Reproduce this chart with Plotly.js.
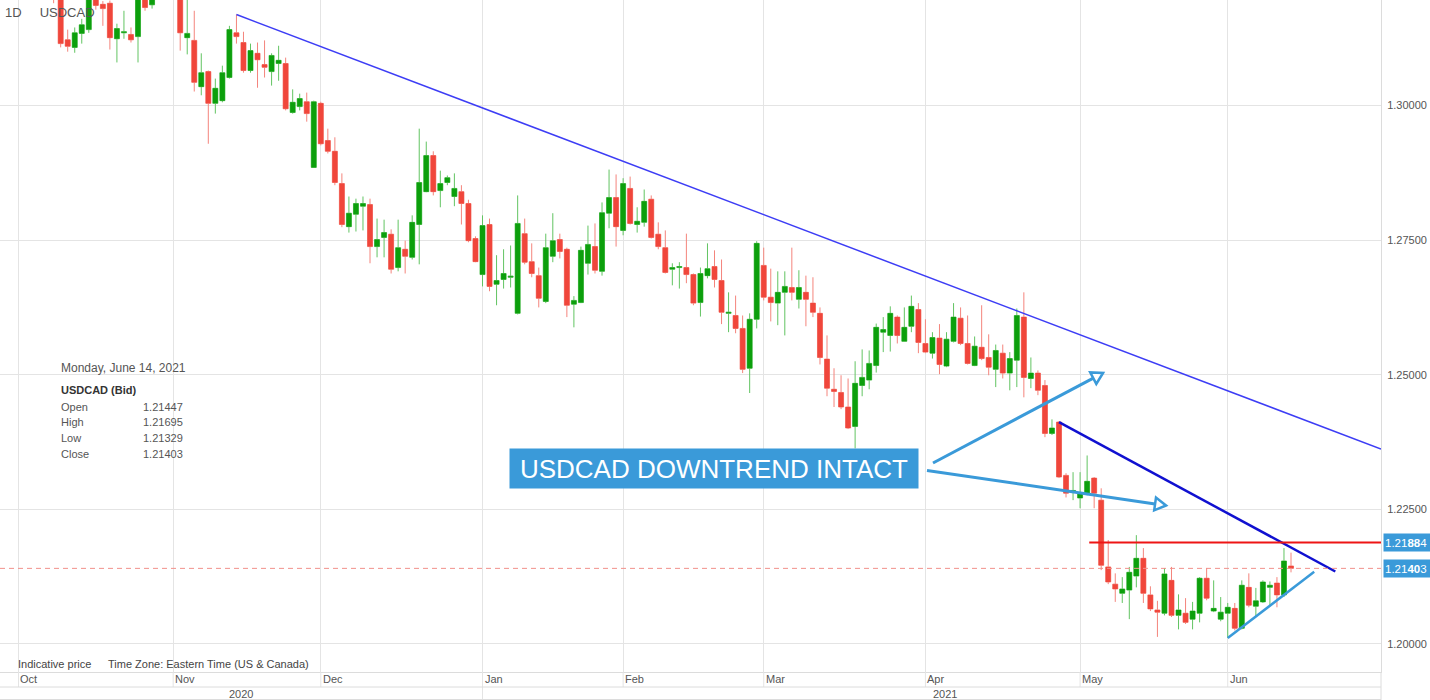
<!DOCTYPE html>
<html>
<head>
<meta charset="utf-8">
<script src="https://cdn.plot.ly/plotly-3.0.1.min.js"></script>
<style>
  html, body { margin: 0; padding: 0; background: #ffffff; }
  #chart { width: 1430px; height: 700px; }
</style>
</head>
<body>
<div id="chart"></div>
<script>
// ---------------- DATA ----------------
const symbol = 'USDCAD';
const timeframe = '1D';
const holidays = ['2021-01-01'];
const firstDay = '2020-10-01';
const lastDay = '2021-06-14';

const monthLabels = ['Oct', 'Nov', 'Dec', 'Jan', 'Feb', 'Mar', 'Apr', 'May', 'Jun'];
const yearLabels = ['2020', '2021'];
const priceTicks = [1.20, 1.225, 1.25, 1.275, 1.30];

const open = [
  // Oct 2020
  1.3315,1.3290,1.3310,1.3260,1.3330,1.3262,1.3200,1.3122,1.3108,1.3134,
  1.3141,1.3210,1.3188,1.3190,1.3124,1.3135,1.3132,1.3128,1.3210,1.3187,
  1.3245,1.3290,
  // Nov
  1.3315,1.3240,1.3126,1.3121,1.3035,1.3063,1.3004,1.3009,1.3052,1.3135,
  1.3117,1.3065,1.3097,1.3076,1.3063,1.3078,1.3078,1.2987,1.2998,1.3007,
  1.2885,
  // Dec
  1.3004,1.2935,1.2915,1.2855,1.2775,1.2798,1.2813,1.2816,1.2738,1.2755,
  1.2761,1.2699,1.2733,1.2718,1.2779,1.2840,1.2907,1.2842,1.2857,1.2831,
  1.2840,1.2818,1.2753,
  // Jan 2021
  1.2686,1.2779,1.2668,1.2677,1.2681,1.2614,1.2762,1.2710,1.2684,1.2636,
  1.2720,1.2751,1.2733,1.2631,1.2634,1.2707,1.2738,1.2692,1.2800,1.2829,
  // Feb
  1.2768,1.2846,1.2779,1.2783,1.2826,1.2761,1.2736,1.2696,1.2699,1.2699,
  1.2686,1.2634,1.2684,1.2701,1.2675,1.2614,1.2610,1.2586,1.2512,1.2603,
  // Mar
  1.2703,1.2644,1.2633,1.2653,1.2662,1.2640,1.2653,1.2633,1.2614,1.2529,
  1.2473,1.2467,1.2440,1.2404,1.2480,1.2490,1.2517,1.2579,1.2573,1.2607,
  1.2562,1.2590,1.2621,
  // Apr
  1.2558,1.2540,1.2568,1.2516,1.2562,1.2605,1.2558,1.2517,1.2551,1.2532,
  1.2510,1.2540,1.2503,1.2527,1.2607,1.2493,1.2503,1.2480,1.2391,1.2412,
  1.2313,1.2282,
  // May
  1.2271,1.2280,1.2308,1.2267,1.2143,1.2111,1.2094,1.2100,1.2126,1.2159,
  1.2091,1.2063,1.2057,1.2118,1.2053,1.2057,1.2046,1.2057,1.2122,1.2061,
  1.2046,
  // Jun
  1.2057,1.2066,1.2029,1.2105,1.2070,1.2078,1.2105,1.2113,1.2091,1.21447
];

const high = [
  1.3340,1.3330,1.3320,1.3340,1.3340,1.3270,1.3208,1.3141,1.3145,1.3161,
  1.3230,1.3220,1.3194,1.3195,1.3152,1.3176,1.3145,1.3225,1.3225,1.3260,
  1.3300,1.3380,
  1.3330,1.3250,1.3215,1.3176,1.3097,1.3065,1.3050,1.3074,1.3148,1.3169,
  1.3137,1.3115,1.3117,1.3121,1.3097,1.3111,1.3089,1.3030,1.3022,1.3024,
  1.3009,
  1.3007,1.2957,1.2941,1.2874,1.2831,1.2827,1.2831,1.2827,1.2790,1.2788,
  1.2770,1.2788,1.2749,1.2796,1.2957,1.2933,1.2915,1.2879,1.2870,1.2874,
  1.2852,1.2825,1.2757,
  1.2796,1.2790,1.2722,1.2733,1.2740,1.2833,1.2790,1.2744,1.2699,1.2762,
  1.2800,1.2762,1.2736,1.2646,1.2738,1.2777,1.2781,1.2820,1.2881,1.2872,
  1.2865,1.2868,1.2811,1.2844,1.2833,1.2783,1.2768,1.2707,1.2709,1.2762,
  1.2688,1.2699,1.2744,1.2731,1.2714,1.2653,1.2647,1.2610,1.2614,1.2748,
  1.2736,1.2697,1.2692,1.2692,1.2736,1.2694,1.2684,1.2681,1.2625,1.2573,
  1.2512,1.2499,1.2493,1.2525,1.2547,1.2545,1.2595,1.2607,1.2627,1.2610,
  1.2625,1.2647,1.2633,
  1.2603,1.2579,1.2594,1.2579,1.2633,1.2625,1.2610,1.2571,1.2629,1.2575,
  1.2556,1.2556,1.2542,1.2623,1.2653,1.2532,1.2508,1.2490,1.2417,1.2414,
  1.2317,1.2319,
  1.2319,1.2350,1.2310,1.2289,1.2193,1.2131,1.2124,1.2143,1.2202,1.2178,
  1.2107,1.2080,1.2141,1.2143,1.2092,1.2085,1.2078,1.2124,1.2141,1.2118,
  1.2087,
  1.2076,1.2076,1.2118,1.2131,1.2104,1.2118,1.2116,1.2124,1.2178,1.21695
];

const low = [
  1.3255,1.3265,1.3250,1.3240,1.3250,1.3190,1.3108,1.3100,1.3098,1.3115,
  1.3135,1.3178,1.3148,1.3104,1.3080,1.3124,1.3117,1.3080,1.3176,1.3180,
  1.3220,1.3260,
  1.3225,1.3102,1.3095,1.3026,1.3019,1.2929,1.2985,1.3006,1.3050,1.3115,
  1.3061,1.3061,1.3033,1.3052,1.3037,1.3046,1.2991,1.2985,1.2991,1.2970,
  1.2885,
  1.2926,1.2911,1.2852,1.2774,1.2764,1.2766,1.2768,1.2707,1.2718,1.2718,
  1.2688,1.2692,1.2688,1.2714,1.2705,1.2839,1.2833,1.2811,1.2852,1.2813,
  1.2779,1.2746,1.2709,
  1.2664,1.2655,1.2629,1.2660,1.2662,1.2612,1.2705,1.2681,1.2625,1.2633,
  1.2709,1.2716,1.2607,1.2588,1.2633,1.2686,1.2688,1.2684,1.2772,1.2738,
  1.2759,1.2779,1.2764,1.2775,1.2753,1.2733,1.2688,1.2666,1.2660,1.2670,
  1.2629,1.2608,1.2679,1.2662,1.2594,1.2579,1.2577,1.2503,1.2466,1.2586,
  1.2638,1.2599,1.2592,1.2573,1.2638,1.2623,1.2590,1.2607,1.2519,1.2460,
  1.2440,1.2436,1.2399,1.2363,1.2460,1.2473,1.2504,1.2542,1.2543,1.2558,
  1.2562,1.2579,1.2540,
  1.2540,1.2530,1.2501,1.2514,1.2560,1.2555,1.2519,1.2516,1.2527,1.2499,
  1.2477,1.2493,1.2471,1.2477,1.2458,1.2475,1.2462,1.2384,1.2388,1.2308,
  1.2272,1.2267,
  1.2252,1.2276,1.2252,1.2137,1.2111,1.2078,1.2076,1.2046,1.2105,1.2076,
  1.2061,1.2013,1.2053,1.2050,1.2027,1.2037,1.2027,1.2040,1.2081,1.2059,
  1.2042,
  1.2011,1.2025,1.2027,1.2068,1.2050,1.2076,1.2072,1.2068,1.2087,1.21329
];

const close = [
  1.3290,1.3310,1.3260,1.3330,1.3260,1.3198,1.3115,1.3110,1.3135,1.3150,
  1.3210,1.3186,1.3180,1.3126,1.3143,1.3137,1.3122,1.3205,1.3182,1.3245,
  1.3290,1.3315,
  1.3240,1.3135,1.3134,1.3043,1.3061,1.3004,1.3032,1.3061,1.3141,1.3128,
  1.3065,1.3102,1.3085,1.3071,1.3093,1.3084,1.2994,1.3006,1.3013,1.2985,
  1.3007,
  1.2929,1.2915,1.2857,1.2779,1.2800,1.2818,1.2818,1.2738,1.2751,1.2764,
  1.2696,1.2736,1.2720,1.2783,1.2857,1.2907,1.2840,1.2855,1.2866,1.2846,
  1.2818,1.2749,1.2710,
  1.2777,1.2664,1.2675,1.2688,1.2683,1.2781,1.2709,1.2688,1.2642,1.2736,
  1.2749,1.2729,1.2629,1.2638,1.2731,1.2742,1.2694,1.2801,1.2829,1.2775,
  1.2855,1.2781,1.2785,1.2822,1.2755,1.2738,1.2690,1.2699,1.2701,1.2686,
  1.2633,1.2688,1.2697,1.2677,1.2616,1.2616,1.2586,1.2510,1.2603,1.2744,
  1.2644,1.2634,1.2653,1.2664,1.2653,1.2662,1.2640,1.2616,1.2532,1.2475,
  1.2469,1.2440,1.2401,1.2484,1.2495,1.2521,1.2588,1.2584,1.2614,1.2573,
  1.2588,1.2627,1.2560,
  1.2542,1.2569,1.2519,1.2566,1.2607,1.2558,1.2521,1.2553,1.2530,1.2514,
  1.2545,1.2503,1.2530,1.2610,1.2495,1.2503,1.2471,1.2391,1.2401,1.2310,
  1.2280,1.2285,
  1.2280,1.2302,1.2280,1.2146,1.2115,1.2102,1.2102,1.2133,1.2159,1.2094,
  1.2065,1.2059,1.2130,1.2053,1.2063,1.2040,1.2061,1.2122,1.2085,1.2066,
  1.2059,
  1.2068,1.2029,1.2109,1.2072,1.2080,1.2115,1.2109,1.2091,1.2154,1.21403
];

// drawn levels / trend points (price values)
const resistanceLevel = 1.21884;
const trend1 = { fromDate: '2020-11-13', fromPrice: 1.3169, toPrice: 1.2362 };
const trend2 = { fromDate: '2021-04-28', fromPrice: 1.2412, toPrice: 1.21345 };
const support = { fromDate: '2021-06-01', fromPrice: 1.2011, toPrice: 1.2134 };
const bannerText = 'USDCAD DOWNTREND INTACT';

// ---------------- CALENDAR ----------------
function tradingDays(start, end, skip) {
  const out = [];
  const d = new Date(start + 'T00:00:00Z');
  const e = new Date(end + 'T00:00:00Z');
  while (d <= e) {
    const wd = d.getUTCDay();
    const s = d.toISOString().slice(0, 10);
    if (wd !== 0 && wd !== 6 && skip.indexOf(s) < 0) out.push(s);
    d.setUTCDate(d.getUTCDate() + 1);
  }
  return out;
}
const dates = tradingDays(firstDay, lastDay, holidays);
const idx = s => dates.indexOf(s);
const lastIdx = dates.length - 1;

// first trading day of each month
const monthStarts = [];
dates.forEach((d, i) => { if (i === 0 || d.slice(0, 7) !== dates[i - 1].slice(0, 7)) monthStarts.push(d); });
const yearStartIdx = dates.findIndex(d => d.slice(0, 4) === '2021');

// ---------------- GEOMETRY ----------------
const W = 1430, H = 700;
const M = { l: 0, r: 49, t: 0, b: 28 };
const PW = W - M.l - M.r, PH = H - M.t - M.b;
const X_MIN = -2.63, X_MAX = 193.8;
const Y_MIN = 1.19478, Y_MAX = 1.31960;
const px = x => x / PW;
const py = y => 1 - y / PH;
const xPaper = i => (i - X_MIN) / (X_MAX - X_MIN);
const pathOf = pts => 'M' + pts.map(p => px(p[0]).toFixed(5) + ',' + py(p[1]).toFixed(5)).join('L') + 'Z';

const FONT = 'Liberation Sans, Arial, sans-serif';
const BLUE_L = '#3a9ad9';
const GRID = '#e4e4e4';
const BORDER = '#dcdcdc';

// ---------------- TRACES ----------------
const bodyHigh = open.map((o, i) => Math.max(o, close[i]));
const bodyLow = open.map((o, i) => Math.min(o, close[i]));

const wicks = {
  type: 'candlestick', x: dates, open: open, high: high, low: low, close: close,
  increasing: { line: { color: '#62c462', width: 1 }, fillcolor: '#62c462' },
  decreasing: { line: { color: '#f4847c', width: 1 }, fillcolor: '#f4847c' },
  whiskerwidth: 0, hoverinfo: 'skip', showlegend: false
};
const bodies = {
  type: 'candlestick', x: dates, open: open, high: bodyHigh, low: bodyLow, close: close,
  increasing: { line: { color: '#0c9f0c', width: 0 }, fillcolor: '#0c9f0c' },
  decreasing: { line: { color: '#f0463b', width: 0 }, fillcolor: '#f0463b' },
  whiskerwidth: 0, hoverinfo: 'skip', showlegend: false
};

// ---------------- SHAPES ----------------
const shapes = [];
// info panel background
shapes.push({ type: 'rect', xref: 'paper', yref: 'paper', x0: px(52), x1: px(198), y0: py(357), y1: py(467),
  fillcolor: 'rgba(255,255,255,0.95)', line: { width: 0 }, layer: 'between' });
// long downtrend line
shapes.push({ type: 'line', xref: 'x', yref: 'y', x0: idx(trend1.fromDate), y0: trend1.fromPrice,
  x1: X_MAX, y1: trend1.toPrice, line: { color: '#3d3df5', width: 1.5 } });
// short downtrend line
shapes.push({ type: 'line', xref: 'x', yref: 'y', x0: idx(trend2.fromDate), y0: trend2.fromPrice,
  x1: lastIdx + 6.3, y1: trend2.toPrice, line: { color: '#1010d0', width: 2.5 } });
// support line
shapes.push({ type: 'line', xref: 'x', yref: 'y', x0: idx(support.fromDate), y0: support.fromPrice,
  x1: lastIdx + 3.3, y1: support.toPrice, line: { color: BLUE_L, width: 2.5 } });
// resistance horizontal
shapes.push({ type: 'line', xref: 'x', yref: 'y', x0: idx('2021-05-04') + 0.3, x1: X_MAX,
  y0: resistanceLevel, y1: resistanceLevel, line: { color: '#ee1515', width: 2 } });
// last price dashed line
shapes.push({ type: 'line', xref: 'paper', yref: 'y', x0: 0, x1: 1,
  y0: close[lastIdx], y1: close[lastIdx], line: { color: '#f2908a', width: 1, dash: '5px,4px' } });
// arrows
shapes.push({ type: 'line', xref: 'paper', yref: 'paper', x0: px(933), y0: py(463), x1: px(1093.3), y1: py(378.1),
  line: { color: BLUE_L, width: 3 } });
shapes.push({ type: 'path', xref: 'paper', yref: 'paper', path: pathOf([[1103, 373], [1096.3, 383.9], [1090.2, 372.4]]),
  fillcolor: '#ffffff', line: { color: BLUE_L, width: 2.5 } });
shapes.push({ type: 'line', xref: 'paper', yref: 'paper', x0: px(927), y0: py(470.5), x1: px(1155.1), y1: py(503.9),
  line: { color: BLUE_L, width: 3 } });
shapes.push({ type: 'path', xref: 'paper', yref: 'paper', path: pathOf([[1166, 505.5], [1154.2, 510.3], [1156.0, 497.5]]),
  fillcolor: '#ffffff', line: { color: BLUE_L, width: 2.5 } });
// bottom time-scale grid
monthStarts.forEach(d => {
  shapes.push({ type: 'line', xref: 'paper', yref: 'paper', x0: xPaper(idx(d)), x1: xPaper(idx(d)),
    y0: py(672), y1: py(687), line: { color: GRID, width: 1 } });
});
shapes.push({ type: 'line', xref: 'paper', yref: 'paper', x0: xPaper(yearStartIdx), x1: xPaper(yearStartIdx),
  y0: py(687), y1: py(700), line: { color: GRID, width: 1 } });
shapes.push({ type: 'line', xref: 'paper', yref: 'paper', x0: 0, x1: 1, y0: py(687), y1: py(687), line: { color: BORDER, width: 1 } });
shapes.push({ type: 'line', xref: 'paper', yref: 'paper', x0: 0, x1: 1, y0: py(699.5), y1: py(699.5), line: { color: BORDER, width: 1 } });
shapes.push({ type: 'line', xref: 'paper', yref: 'paper', x0: 1, x1: 1, y0: py(672), y1: py(700), line: { color: BORDER, width: 1 } });

// ---------------- ANNOTATIONS ----------------
const ann = [];
// month labels
monthStarts.forEach((d, k) => {
  ann.push({ xref: 'x', yref: 'paper', x: idx(d), y: py(679.5), text: monthLabels[k], showarrow: false,
    xanchor: 'left', yanchor: 'middle', xshift: 0, font: { family: FONT, size: 11, color: '#555' } });
});
// year labels
ann.push({ xref: 'paper', yref: 'paper', x: xPaper(yearStartIdx) / 2, y: py(693.5), text: yearLabels[0], showarrow: false,
  xanchor: 'center', yanchor: 'middle', font: { family: FONT, size: 11, color: '#555' } });
ann.push({ xref: 'paper', yref: 'paper', x: px(945), y: py(693.5), text: yearLabels[1], showarrow: false,
  xanchor: 'center', yanchor: 'middle', font: { family: FONT, size: 11, color: '#555' } });
// footnote
ann.push({ xref: 'paper', yref: 'paper', x: px(16), y: py(664), text: 'Indicative price', showarrow: false,
  xanchor: 'left', yanchor: 'middle', font: { family: FONT, size: 11, color: '#444' } });
ann.push({ xref: 'paper', yref: 'paper', x: px(106), y: py(664), text: 'Time Zone: Eastern Time (US &amp; Canada)', showarrow: false,
  xanchor: 'left', yanchor: 'middle', font: { family: FONT, size: 11, color: '#444' } });

// info panel
const WEEKDAYS = ['Sunday', 'Monday', 'Tuesday', 'Wednesday', 'Thursday', 'Friday', 'Saturday'];
const MONTHS = ['January', 'February', 'March', 'April', 'May', 'June', 'July', 'August', 'September', 'October', 'November', 'December'];
const ld = new Date(dates[lastIdx] + 'T00:00:00Z');
const dateText = WEEKDAYS[ld.getUTCDay()] + ', ' + MONTHS[ld.getUTCMonth()] + ' ' + ld.getUTCDate() + ', ' + ld.getUTCFullYear();
ann.push({ xref: 'paper', yref: 'paper', x: px(59), y: py(368), text: dateText, showarrow: false,
  xanchor: 'left', yanchor: 'middle', font: { family: FONT, size: 12, color: '#555' } });
ann.push({ xref: 'paper', yref: 'paper', x: px(59), y: py(390), text: '<b>' + symbol + ' (Bid)</b>', showarrow: false,
  xanchor: 'left', yanchor: 'middle', font: { family: FONT, size: 11, color: '#333' } });
const rows = [['Open', open[lastIdx]], ['High', high[lastIdx]], ['Low', low[lastIdx]], ['Close', close[lastIdx]]];
rows.forEach((r, k) => {
  const yy = 406.5 + k * 15.8;
  ann.push({ xref: 'paper', yref: 'paper', x: px(59), y: py(yy), text: r[0], showarrow: false,
    xanchor: 'left', yanchor: 'middle', font: { family: FONT, size: 11, color: '#555' } });
  ann.push({ xref: 'paper', yref: 'paper', x: px(185), y: py(yy), text: r[1].toFixed(5), showarrow: false,
    xanchor: 'right', yanchor: 'middle', font: { family: FONT, size: 11, color: '#555' } });
});

// banner
ann.push({ xref: 'paper', yref: 'paper', x: px(714), y: py(468), text: bannerText, showarrow: false,
  xanchor: 'center', yanchor: 'middle', bgcolor: BLUE_L, width: 404, height: 35, borderpad: 2,
  font: { family: FONT, size: 26, color: '#ffffff' } });

// price tags on the right axis
function tagText(v) {
  const s = v.toFixed(5);
  return s.slice(0, 4) + '<b>' + s.slice(4, 6) + '</b>' + s.slice(6);
}
[resistanceLevel, close[lastIdx]].forEach(v => {
  ann.push({ xref: 'paper', yref: 'y', x: px(1383), y: v, text: tagText(v), showarrow: false,
    xanchor: 'left', yanchor: 'middle', bgcolor: BLUE_L, width: 45, height: 15, borderpad: 1, align: 'left',
    font: { family: FONT, size: 11.5, color: '#ffffff' } });
});

// ---------------- LAYOUT ----------------
const layout = {
  width: W, height: H,
  margin: M,
  paper_bgcolor: '#ffffff', plot_bgcolor: '#ffffff',
  font: { family: FONT, size: 11, color: '#555' },
  showlegend: false,
  boxgap: 0.29, boxgroupgap: 0,
  title: { text: timeframe + '\u00a0\u00a0\u00a0\u00a0\u00a0' + symbol, x: 5 / W, xanchor: 'left', xref: 'container',
    y: 1 - 12 / H, yanchor: 'middle', yref: 'container', font: { family: FONT, size: 13, color: '#555' } },
  xaxis: {
    type: 'category', range: [X_MIN, X_MAX], rangeslider: { visible: false },
    tickmode: 'array', tickvals: monthStarts, showticklabels: false, ticks: '',
    showgrid: true, gridcolor: GRID, gridwidth: 1, zeroline: false,
    showline: true, linecolor: BORDER, linewidth: 1, fixedrange: true, automargin: false
  },
  yaxis: {
    side: 'right', range: [Y_MIN, Y_MAX], tickmode: 'array', tickvals: priceTicks, tickformat: '.5f',
    showgrid: true, gridcolor: GRID, gridwidth: 1, zeroline: false, ticks: '',
    showline: true, linecolor: BORDER, linewidth: 1, fixedrange: true, automargin: false,
    tickfont: { family: FONT, size: 11, color: '#555' }, ticklabelstandoff: 3
  },
  shapes: shapes,
  annotations: ann
};

Plotly.newPlot('chart', [wicks, bodies], layout, { displayModeBar: false, staticPlot: true });
</script>
</body>
</html>
